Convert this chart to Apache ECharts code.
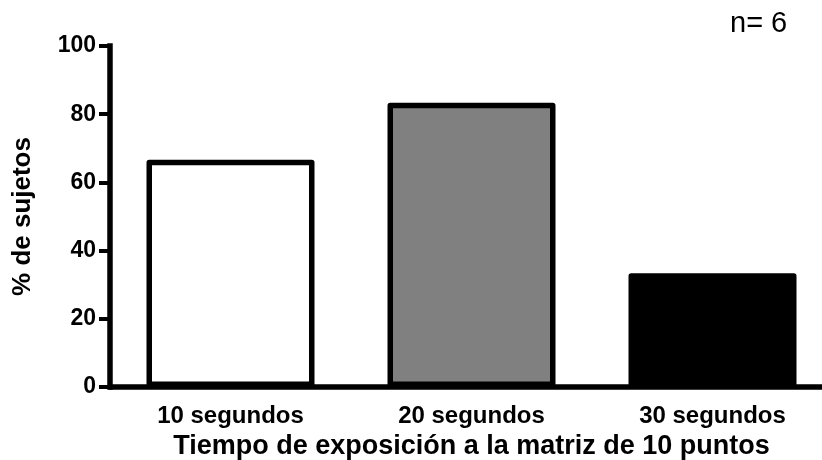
<!DOCTYPE html>
<html>
<head>
<meta charset="utf-8">
<script src="https://cdn.jsdelivr.net/npm/echarts@6/dist/echarts.min.js"></script>
<style>
  html, body { margin: 0; padding: 0; background: #fff; }
  #chart { width: 822px; height: 460px; }
</style>
</head>
<body>
<div id="chart"></div>
<script>
// Share of subjects per exposure time (n = 6)
const categories = ['10 segundos', '20 segundos', '30 segundos'];
const percentSubjects = [66.67, 83.33, 33.33];
const yMin = 0;
const yMax = 100;
const yStep = 20;

// Fill per bar
const barFills = ['#ffffff', '#808080', '#000000'];

const FONT = '"Liberation Sans", Arial, Helvetica, sans-serif';

const chart = echarts.init(document.getElementById('chart'), null, { renderer: 'canvas' });

chart.setOption({
  animation: false,
  backgroundColor: '#ffffff',
  grid: {
    left: 110, right: -11, top: 46, bottom: 73,
    containLabel: false,
    outerBoundsMode: 'none'
  },
  graphic: [{
    type: 'text',
    left: 730,
    top: 9,
    style: { text: 'n= 6', font: '29px ' + FONT, fill: '#000' }
  }],
  xAxis: {
    type: 'category',
    data: categories,
    name: 'Tiempo de exposición a la matriz de 10 puntos',
    nameLocation: 'middle',
    nameGap: 40,
    nameTextStyle: { fontFamily: FONT, fontWeight: 'bold', fontSize: 27, color: '#000', verticalAlign: 'top' },
    axisLine: { lineStyle: { color: '#000', width: 5.5 } },
    axisTick: { show: false },
    axisLabel: { fontFamily: FONT, fontWeight: 'bold', fontSize: 24, color: '#000', margin: 17 }
  },
  yAxis: {
    type: 'value',
    min: yMin,
    max: yMax,
    interval: yStep,
    name: '% de sujetos',
    nameLocation: 'middle',
    nameGap: 74,
    nameRotate: 90,
    nameTextStyle: { fontFamily: FONT, fontWeight: 'bold', fontSize: 26, color: '#000' },
    axisLine: { show: true, lineStyle: { color: '#000', width: 5.5, cap: 'square' } },
    axisTick: { show: true, length: 11, lineStyle: { color: '#000', width: 4 } },
    splitLine: { show: false },
    axisLabel: { fontFamily: FONT, fontWeight: 'bold', fontSize: 23, color: '#000', margin: 14 }
  },
  series: [{
    type: 'bar',
    barWidth: 168,
    data: percentSubjects.map((v, i) => ({
      value: v,
      itemStyle: { color: barFills[i] }
    })),
    itemStyle: { borderColor: '#000', borderWidth: 5.5, borderJoin: 'round' }
  }]
});
</script>
</body>
</html>
